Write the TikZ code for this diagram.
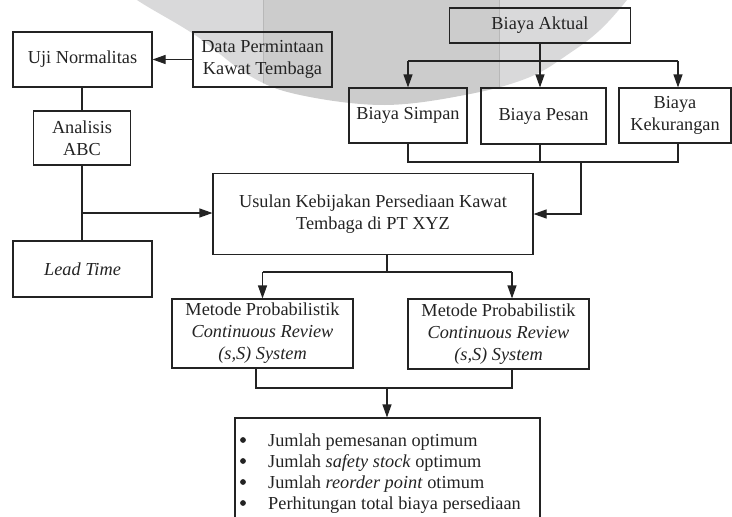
\documentclass[tikz,border=0pt]{standalone}
\usepackage{fontspec}
\setmainfont{Liberation Serif}
\usetikzlibrary{arrows.meta}
\colorlet{wmlight}{blue!4!black!15}
\colorlet{wmdark}{black!20}
\colorlet{wmedge}{black!28}
\definecolor{ink}{RGB}{35,35,35}
\begin{document}
\begin{tikzpicture}[x=1pt,y=-1pt,
  box/.style={draw=ink, line width=1.1pt, inner sep=0pt, align=center, text=ink,
    font=\fontsize{18.3}{22}\selectfont},
  conn/.style={draw=ink, line width=1.1pt},
  arr/.style={conn, -{Triangle[length=13pt,width=9pt]}},
  dot/.style={fill=ink},
]
\path[use as bounding box, clip] (0,0) rectangle (732,517);

% watermark
\begin{scope}
  \clip plot[smooth, tension=0.6] coordinates {(115,-20) (137,0) (195,35) (250,76) (300,95) (385,105) (470,94) (530,77) (570,53) (600,30) (627,0) (640,-20)} -- (640,-40) -- (115,-40) -- cycle;
  \fill[wmlight] (100,-40) rectangle (263,130);
  \fill[wmlight] (499,-40) rectangle (660,130);
  \fill[wmdark] (263,-40) rectangle (499,130);
  \draw[wmedge, line width=0.6pt] (263,-40) -- (263,130) (499,-40) -- (499,130);
\end{scope}

% nodes
\node[box, minimum width=139pt, minimum height=55pt] (uji) at (82.5,59.5) {Uji Normalitas};
\node[box, minimum width=139pt, minimum height=55pt] (data) at (262.5,59.5) {Data Permintaan\\Kawat Tembaga};
\node[box, minimum width=97pt, minimum height=54pt] (abc) at (82,138) {Analisis\\ABC};
\node[box, minimum width=139pt, minimum height=56pt] (lead) at (82.5,269) {\textit{Lead Time}};
\node[box, minimum width=320pt, minimum height=81pt] (usulan) at (373,214) {Usulan Kebijakan Persediaan Kawat\\Tembaga di PT XYZ};
\node[box, minimum width=181pt, minimum height=35pt] (aktual) at (540,25.5) {Biaya Aktual};
\node[box, minimum width=118pt, minimum height=55pt] (simpan) at (408,115.5) {Biaya Simpan};
\node[box, minimum width=125pt, minimum height=56pt] (pesan) at (543.5,116) {Biaya Pesan};
\node[box, minimum width=112pt, minimum height=55pt] (kurang) at (675,115.5) {Biaya\\Kekurangan};
\node[box, minimum width=181pt, minimum height=69pt] (m1) at (262.5,333.5) {Metode Probabilistik\\\textit{Continuous Review}\\\textit{(s,S) System}};
\node[box, minimum width=181pt, minimum height=70pt] (m2) at (498.5,334) {Metode Probabilistik\\\textit{Continuous Review}\\\textit{(s,S) System}};
\node[box, minimum width=305pt, minimum height=112pt] (res) at (387.5,474) {};
\node[anchor=base west, inner sep=0pt, text=ink, font=\fontsize{18.3}{21}\selectfont] (list) at (268,446) {%
  \begin{tabular}[t]{@{}l@{}}
  Jumlah pemesanan optimum\\
  Jumlah \textit{safety stock} optimum\\
  Jumlah \textit{reorder point} otimum\\
  Perhitungan total biaya persediaan
  \end{tabular}};
\foreach \yy in {440,461,482,503} \fill[dot] (243,\yy) circle (2.9pt);

% left column connectors
\coordinate (j1) at (82,213);
\draw[arr] (data.west) -- (uji.east);
\draw[conn] (abc.north |- uji.south) -- (abc.north);
\draw[conn] (abc.south) -- (abc.south |- lead.north);
\draw[arr] (j1) -- (j1 -| usulan.west);

% cost branch
\coordinate (t1) at (408,61);
\coordinate (t2) at (678,61);
\draw[arr] (aktual.south) -- (aktual.south |- pesan.north);
\draw[conn] (t1) -- (t2);
\draw[arr] (t1) -- (t1 |- simpan.north);
\draw[arr] (t2) -- (t2 |- kurang.north);
\coordinate (u1) at (408,162);
\coordinate (u2) at (540,162);
\coordinate (u3) at (678,162);
\coordinate (u4) at (581,162);
\draw[conn] (u1 |- simpan.south) -- (u1) -- (u3) -- (u3 |- kurang.south);
\draw[conn] (u2 |- pesan.south) -- (u2);
\draw[arr] (u4) -- (u4 |- usulan.east) -- (usulan.east);

% methods
\coordinate (v0) at (387,272);
\coordinate (v1) at (262.5,272);
\coordinate (v2) at (512,272);
\draw[conn] (v0 |- usulan.south) -- (v0);
\draw[conn] (v1) -- (v2);
\draw[arr] (v1) -- (m1.north);
\draw[arr] (v2) -- (v2 |- m2.north);
\coordinate (w0) at (387,388);
\coordinate (w1) at (256,388);
\coordinate (w2) at (512,388);
\draw[conn] (w1 |- m1.south) -- (w1) -- (w2) -- (w2 |- m2.south);
\draw[arr] (w0) -- (w0 |- res.north);
\end{tikzpicture}
\end{document}
